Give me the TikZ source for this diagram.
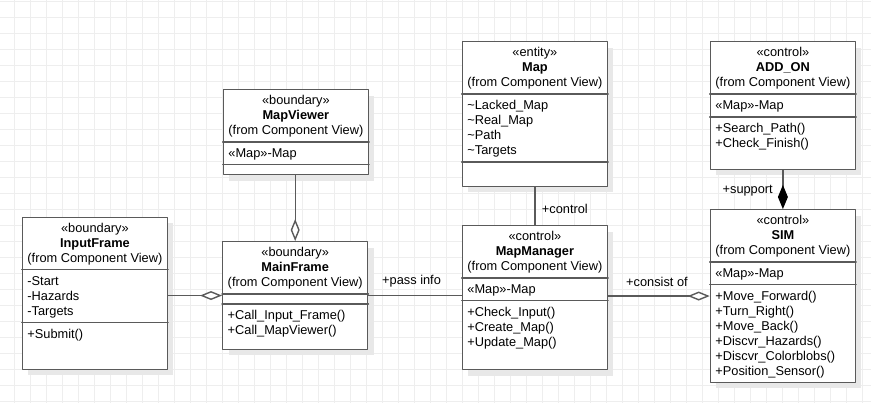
\documentclass[tikz,border=0pt]{standalone}
\usepackage{fontspec}
\setmainfont{Liberation Sans}
\usepackage{tikz}
\usetikzlibrary{arrows.meta,calc,shadows}
\definecolor{gridgray}{RGB}{238,238,238}
\definecolor{shadowgray}{RGB}{232,232,232}
\definecolor{umlgray}{RGB}{90,90,90}
\newcommand{\umlfont}{\fontsize{12.8}{15}\selectfont}

\begin{document}
\begin{tikzpicture}[line cap=round,line join=round,x=1pt,y=-1pt,
    gridline/.style={draw=gridgray,line width=1pt},
    umlclass/.style={draw=umlgray,line width=1.4pt,fill=white,inner sep=0pt,minimum width=145pt,anchor=north west,
      drop shadow={shadow xshift=6pt,shadow yshift=-6pt,fill=shadowgray,opacity=1}},
    divider/.style={draw=umlgray,line width=1.4pt},
    header/.style={anchor=north,align=center,inner sep=0pt,font=\umlfont},
    members/.style={anchor=north west,align=left,inner sep=0pt,font=\umlfont},
    role/.style={anchor=base west,inner sep=0pt,font=\umlfont},
    assoc/.style={draw=umlgray,line width=1.4pt},
    aggregation/.style={assoc,-{Diamond[fill=white,length=22pt,width=9pt]}},
    composition/.style={assoc,-{Diamond[fill=black,color=black,length=24pt,width=10pt]}}]
                \useasboundingbox (0,0) rectangle (871,403);
                \fill[white] (0,0) rectangle (871,403);
                \foreach \x in {14.3,30.3,...,871} \draw[gridline] (\x,0) -- (\x,403);
                \foreach \y in {1.3,17.3,...,403} \draw[gridline] (0,\y) -- (871,\y);
                \node[umlclass,minimum height=152pt] (inputframe) at (21.7,216.7) {};
                \node[umlclass,minimum height=85pt] (mapviewer) at (222.7,89) {};
                \node[umlclass,minimum height=107.7pt] (mainframe) at (222,241) {};
                \node[umlclass,minimum height=144.7pt] (map) at (461.7,41) {};
                \node[umlclass,minimum height=144pt] (mapmanager) at (461.7,225) {};
                \node[umlclass,minimum height=127.7pt] (addon) at (709.7,41) {};
                \node[umlclass,minimum height=172.7pt] (sim) at (709.7,209) {};
                \draw[divider] ($(inputframe.north west)+(0,53)$) -- ($(inputframe.north east)+(0,53)$);
                \draw[divider] ($(inputframe.north west)+(0,106)$) -- ($(inputframe.north east)+(0,106)$);
                \draw[divider] ($(mapviewer.north west)+(0,53)$) -- ($(mapviewer.north east)+(0,53)$);
                \draw[divider] ($(mapviewer.north west)+(0,75.7)$) -- ($(mapviewer.north east)+(0,75.7)$);
                \draw[divider] ($(mainframe.north west)+(0,53)$) -- ($(mainframe.north east)+(0,53)$);
                \draw[divider] ($(mainframe.north west)+(0,63)$) -- ($(mainframe.north east)+(0,63)$);
                \draw[divider] ($(map.north west)+(0,53)$) -- ($(map.north east)+(0,53)$);
                \draw[divider] ($(map.north west)+(0,121)$) -- ($(map.north east)+(0,121)$);
                \draw[divider] ($(mapmanager.north west)+(0,53)$) -- ($(mapmanager.north east)+(0,53)$);
                \draw[divider] ($(mapmanager.north west)+(0,75.7)$) -- ($(mapmanager.north east)+(0,75.7)$);
                \draw[divider] ($(addon.north west)+(0,53)$) -- ($(addon.north east)+(0,53)$);
                \draw[divider] ($(addon.north west)+(0,76)$) -- ($(addon.north east)+(0,76)$);
                \draw[divider] ($(sim.north west)+(0,53)$) -- ($(sim.north east)+(0,53)$);
                \draw[divider] ($(sim.north west)+(0,75.7)$) -- ($(sim.north east)+(0,75.7)$);
                \node[header] (inputframe-title) at ($(inputframe.north)+(0,4.8)$) {\strut«boundary»\\\textbf{InputFrame}\\(from Component View)};
                \node[members] (inputframe-attr) at ($(inputframe.north west)+(5.5,57.8)$) {\strut-Start\\-Hazards\\-Targets};
                \node[members] (inputframe-ops) at ($(inputframe.north west)+(5.5,110.8)$) {\strut+Submit()};
                \node[header] (mapviewer-title) at ($(mapviewer.north)+(0,4.8)$) {\strut«boundary»\\\textbf{MapViewer}\\(from Component View)};
                \node[members] (mapviewer-attr) at ($(mapviewer.north west)+(5.5,57.8)$) {\strut«Map»-Map};
                \node[header] (mainframe-title) at ($(mainframe.north)+(0,4.8)$) {\strut«boundary»\\\textbf{MainFrame}\\(from Component View)};
                \node[members] (mainframe-ops) at ($(mainframe.north west)+(5.5,67.8)$) {\strut+Call\_Input\_Frame()\\+Call\_MapViewer()};
                \node[header] (map-title) at ($(map.north)+(0,4.8)$) {\strut«entity»\\\textbf{Map}\\(from Component View)};
                \node[members] (map-attr) at ($(map.north west)+(5.5,57.8)$) {\strut\textasciitilde Lacked\_Map\\\textasciitilde Real\_Map\\\textasciitilde Path\\\textasciitilde Targets};
                \node[header] (mapmanager-title) at ($(mapmanager.north)+(0,4.8)$) {\strut«control»\\\textbf{MapManager}\\(from Component View)};
                \node[members] (mapmanager-attr) at ($(mapmanager.north west)+(5.5,57.8)$) {\strut«Map»-Map};
                \node[members] (mapmanager-ops) at ($(mapmanager.north west)+(5.5,80.5)$) {\strut+Check\_Input()\\+Create\_Map()\\+Update\_Map()};
                \node[header] (addon-title) at ($(addon.north)+(0,4.8)$) {\strut«control»\\\textbf{ADD\_ON}\\(from Component View)};
                \node[members] (addon-attr) at ($(addon.north west)+(5.5,57.8)$) {\strut«Map»-Map};
                \node[members] (addon-ops) at ($(addon.north west)+(5.5,80.8)$) {\strut+Search\_Path()\\+Check\_Finish()};
                \node[header] (sim-title) at ($(sim.north)+(0,4.8)$) {\strut«control»\\\textbf{SIM}\\(from Component View)};
                \node[members] (sim-attr) at ($(sim.north west)+(5.5,57.8)$) {\strut«Map»-Map};
                \node[members] (sim-ops) at ($(sim.north west)+(5.5,80.5)$) {\strut+Move\_Forward()\\+Turn\_Right()\\+Move\_Back()\\+Discvr\_Hazards()\\+Discvr\_Colorblobs()\\+Position\_Sensor()};
                \draw[aggregation] (inputframe.east |- mainframe.west) -- (mainframe.west);
                \draw[aggregation] (mapviewer.south -| mainframe.north) -- (mainframe.north);
                \draw[assoc] (mainframe.east) -- (mainframe.east -| mapmanager.west);
                \draw[assoc] (map.south) -- (mapmanager.north);
                \draw[aggregation] (sim.west -| mapmanager.east) -- (sim.west);
                \draw[composition] (addon.south) -- (sim.north);
                \node[role] (passinfo) at (382,284.5) {+pass info};
                \node[role] (control) at (541.7,213.5) {+control};
                \node[role] (consistof) at (626,287) {+consist of};
                \node[role,anchor=base east] (support) at (773,193.3) {+support};
            \end{tikzpicture}
\end{document}
